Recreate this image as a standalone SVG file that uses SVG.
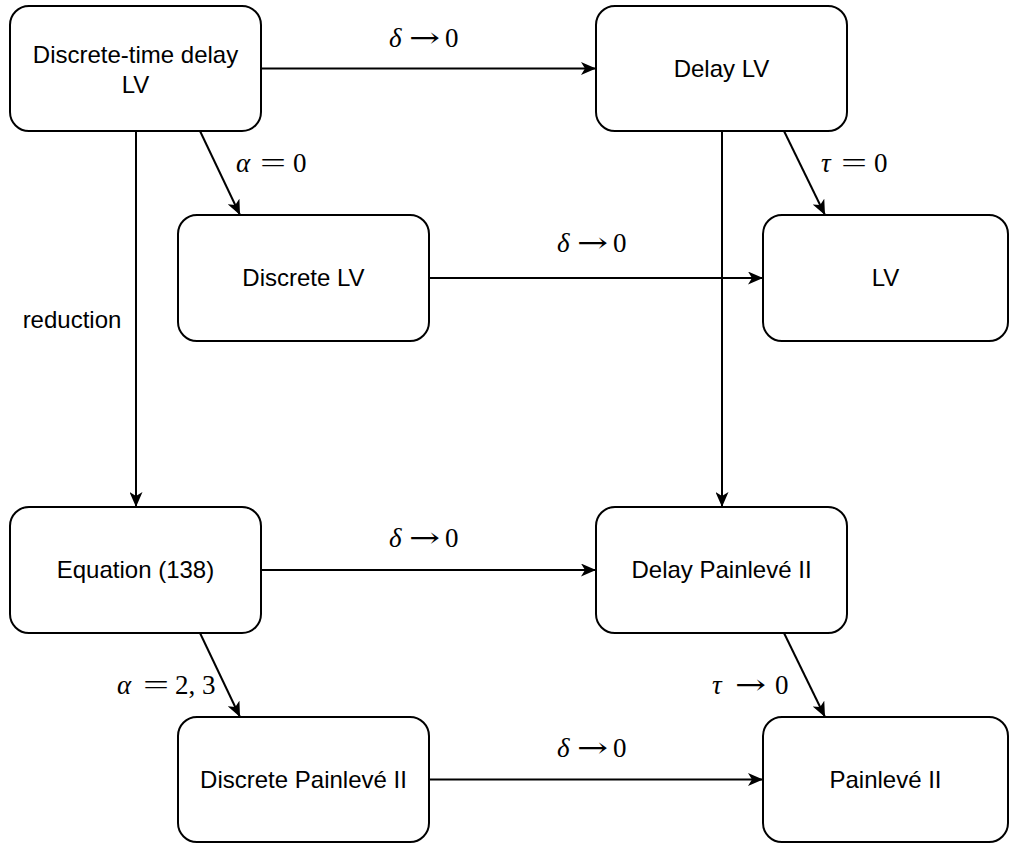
<svg xmlns="http://www.w3.org/2000/svg" width="1010" height="844" viewBox="0 0 1010 844">
<style>
.box{fill:#fff;stroke:#000;stroke-width:2}
.lbl{font-family:"Liberation Sans",Arial,sans-serif;font-size:24px;fill:#000;text-anchor:middle}
.edge{fill:none;stroke:#000;stroke-width:2}
.math{font-family:"Liberation Serif","Times New Roman",serif;font-size:27px;fill:#000}
.it{font-style:italic}
.ar{font-family:"DejaVu Serif",serif;font-size:27px;font-style:normal}
</style>
<defs>
<marker id="arr" viewBox="0 0 15 13" refX="15" refY="6.5" markerWidth="15" markerHeight="13" markerUnits="userSpaceOnUse" orient="auto">
<path d="M0,0 L15,6.5 L0,13 L4,6.5 z" fill="#000"/>
</marker>
</defs>
<rect width="1010" height="844" fill="#fff"/>
<g id="connectors">
<path class="edge" d="M261,68.5 L596,68.5" marker-end="url(#arr)"/>
<path class="edge" d="M136,131 L136,507" marker-end="url(#arr)"/>
<path class="edge" d="M200,131 L240,215" marker-end="url(#arr)"/>
<path class="edge" d="M722,131 L722,507" marker-end="url(#arr)"/>
<path class="edge" d="M784,131 L825,215" marker-end="url(#arr)"/>
<path class="edge" d="M429,278 L763,278" marker-end="url(#arr)"/>
<path class="edge" d="M261,570 L596,570" marker-end="url(#arr)"/>
<path class="edge" d="M200,633 L240,717" marker-end="url(#arr)"/>
<path class="edge" d="M784,633 L825,717" marker-end="url(#arr)"/>
<path class="edge" d="M429,779.5 L763,779.5" marker-end="url(#arr)"/>
<g id="lbl-top">
<text class="math" y="47"><tspan class="it" x="389">δ</tspan><tspan x="445">0</tspan></text>
<text class="math ar" x="409" y="47" textLength="31" lengthAdjust="spacingAndGlyphs">→</text>
</g>
<g id="lbl-mid">
<text class="math" y="252"><tspan class="it" x="557">δ</tspan><tspan x="613">0</tspan></text>
<text class="math ar" x="577" y="252" textLength="31" lengthAdjust="spacingAndGlyphs">→</text>
</g>
<g id="lbl-eq">
<text class="math" y="547"><tspan class="it" x="389">δ</tspan><tspan x="445">0</tspan></text>
<text class="math ar" x="409" y="547" textLength="31" lengthAdjust="spacingAndGlyphs">→</text>
</g>
<g id="lbl-bot">
<text class="math" y="757"><tspan class="it" x="557">δ</tspan><tspan x="613">0</tspan></text>
<text class="math ar" x="577" y="757" textLength="31" lengthAdjust="spacingAndGlyphs">→</text>
</g>
<text class="math" y="172"><tspan class="it" x="236">α</tspan><tspan x="260" textLength="26" lengthAdjust="spacingAndGlyphs">=</tspan><tspan x="293">0</tspan></text>
<text class="math" y="172"><tspan class="it" x="821">τ</tspan><tspan x="841" textLength="26" lengthAdjust="spacingAndGlyphs">=</tspan><tspan x="874">0</tspan></text>
<text class="math" y="694"><tspan class="it" x="117">α</tspan><tspan x="143" textLength="26" lengthAdjust="spacingAndGlyphs">=</tspan><tspan x="175">2,</tspan><tspan x="202">3</tspan></text>
<g id="lbl-tau">
<text class="math" y="694"><tspan class="it" x="712">τ</tspan><tspan x="775">0</tspan></text>
<text class="math ar" x="735" y="694" textLength="31" lengthAdjust="spacingAndGlyphs">→</text>
</g>
<text class="lbl" x="72" y="328">reduction</text>
</g>
<g id="n1"><rect class="box" x="10" y="6" width="251" height="125" rx="19"/><text class="lbl" x="135.5" y="63">Discrete-time delay</text><text class="lbl" x="135.5" y="93">LV</text></g>
<g id="n2"><rect class="box" x="596" y="6" width="251" height="125" rx="19"/><text class="lbl" x="721.5" y="77">Delay LV</text></g>
<g id="n3"><rect class="box" x="178" y="215" width="251" height="126" rx="19"/><text class="lbl" x="303.5" y="286">Discrete LV</text></g>
<g id="n4"><rect class="box" x="763" y="215" width="245" height="126" rx="19"/><text class="lbl" x="885.5" y="286">LV</text></g>
<g id="n5"><rect class="box" x="10" y="507" width="251" height="126" rx="19"/><text class="lbl" x="135.5" y="578">Equation (138)</text></g>
<g id="n6"><rect class="box" x="596" y="507" width="251" height="126" rx="19"/><text class="lbl" x="721.5" y="578">Delay Painlevé II</text></g>
<g id="n7"><rect class="box" x="178" y="717" width="251" height="125" rx="19"/><text class="lbl" x="303.5" y="788">Discrete Painlevé II</text></g>
<g id="n8"><rect class="box" x="763" y="717" width="245" height="125" rx="19"/><text class="lbl" x="885.5" y="788">Painlevé II</text></g>
</svg>
